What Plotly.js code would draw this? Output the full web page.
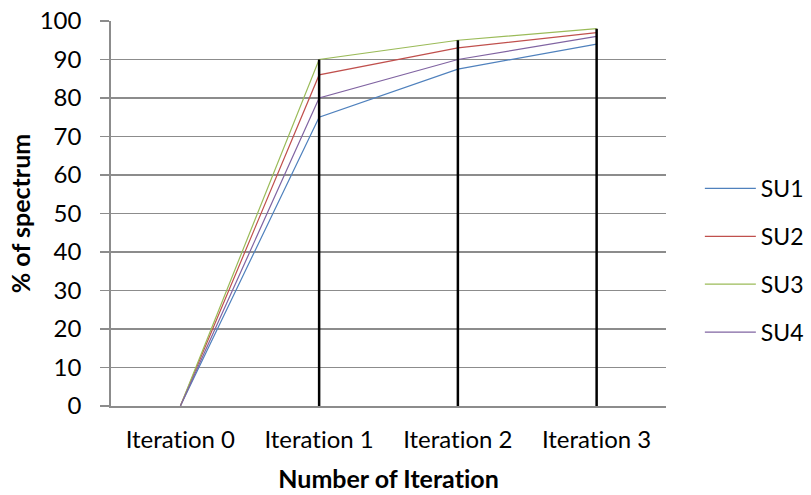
<!DOCTYPE html>
<html>
<head>
<meta charset="utf-8">
<script src="https://cdn.plot.ly/plotly-3.0.1.min.js"></script>
<style>
html,body{margin:0;padding:0;background:#fff;}
#chart{width:811px;height:495px;}
svg text{font-variant-ligatures:none !important;font-feature-settings:"liga" 0, "clig" 0 !important;}
</style>
</head>
<body>
<div id="chart"></div>
<script>
const categories = ["Iteration 0", "Iteration 1", "Iteration 2", "Iteration 3"];
const su1 = [0, 75, 87.5, 94];
const su2 = [0, 86, 93, 97];
const su3 = [0, 90, 95, 98];
const su4 = [0, 80, 90, 96];
const seriesNames = ["SU1", "SU2", "SU3", "SU4"];
const seriesColors = ["#4F81BD", "#C0504D", "#9BBB59", "#8064A2"];
const yTicks = [0, 10, 20, 30, 40, 50, 60, 70, 80, 90, 100];

const FONT = "Lato, 'Liberation Sans', sans-serif";
const series = [su1, su2, su3, su4];
const traces = series.map((vals, i) => ({
  type: "scatter", mode: "lines",
  x: categories, y: vals, name: seriesNames[i],
  legendgroup: seriesNames[i],
  line: {color: seriesColors[i], width: 1.2}
}));

// drop lines: from 0 to max value at each category
const dx = [], dy = [];
categories.forEach((c, j) => {
  const m = Math.max(...series.map(s => s[j]));
  if (m > 0) { dx.push(c, c, null); dy.push(0, m, null); }
});
traces.push({type: "scatter", mode: "lines", x: dx, y: dy, showlegend: false,
  hoverinfo: "skip", line: {color: "#000000", width: 2.5}});

const layout = {
  width: 811, height: 495,
  margin: {l: 111, r: 145, t: 21, b: 89, autoexpand: false},
  paper_bgcolor: "#ffffff", plot_bgcolor: "#ffffff",
  font: {family: FONT, size: 24, color: "#000000"},
  showlegend: true,
  legend: {x: 1.061, xanchor: "left", y: 0.378, yanchor: "middle",
    itemwidth: 51,
    font: {family: FONT, size: 23, color: "#000"}, tracegroupgap: 15,
    bgcolor: "rgba(0,0,0,0)"},
  xaxis: {
    type: "category", range: [-0.5, 3.5], showgrid: false, zeroline: false,
    showline: true, linecolor: "#8c8c8c", linewidth: 1.5, ticks: "",
    ticklabelstandoff: 12,
    tickfont: {family: FONT, size: 24, color: "#000"},
    title: {text: "<b>Number of Iteration</b>", font: {family: FONT, size: 25, color: "#000"}, standoff: 18}
  },
  yaxis: {
    range: [0, 100], tickvals: yTicks, showgrid: true, gridcolor: "#8c8c8c", gridwidth: 1.8,
    zeroline: false, showline: true, linecolor: "#8c8c8c", linewidth: 1.8,
    ticks: "outside", ticklen: 9, tickcolor: "#8c8c8c", tickwidth: 1.8,
    ticklabelstandoff: 14,
    tickfont: {family: FONT, size: 24, color: "#000"},
    title: {text: "<b>% of spectrum</b>", font: {family: FONT, size: 25, color: "#000"}, standoff: 2}
  }
};

Plotly.newPlot("chart", traces, layout, {displayModeBar: false, staticPlot: true});
</script>
</body>
</html>
